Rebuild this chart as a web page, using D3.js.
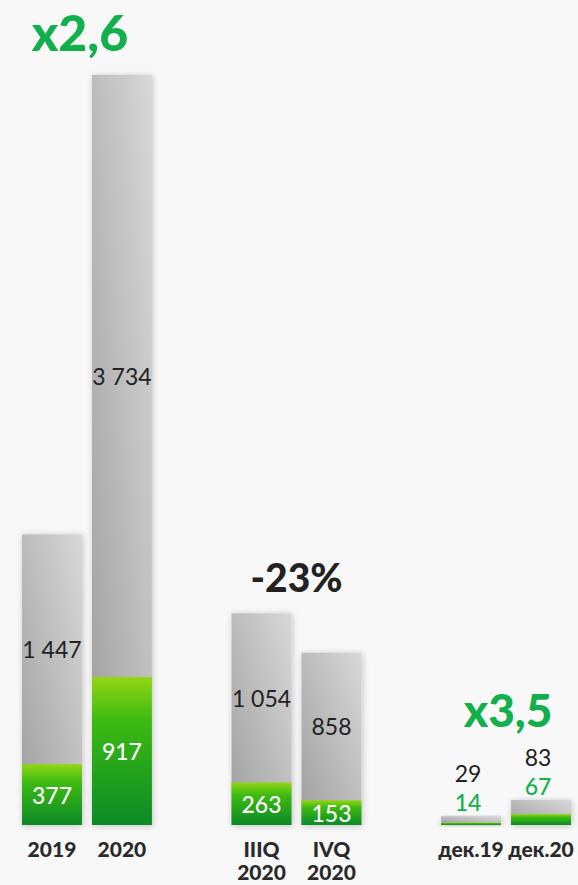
<!DOCTYPE html>
<html>
<head>
<meta charset="utf-8">
<script src="https://cdn.jsdelivr.net/npm/d3@7"></script>
<style>
  html, body { margin: 0; padding: 0; background: #f8f8f8; }
  svg { display: block; font-family: Lato, "Noto Sans", sans-serif; }
</style>
</head>
<body>
<svg id="chart" width="578" height="885"></svg>
<script>
// groups of bars
const groups = ["year", "quarter", "month"];
const categories = ["2019", "2020", "IIIQ 2020", "IVQ 2020", "дек.19", "дек.20"];
const categoryGroup = ["year", "year", "quarter", "quarter", "month", "month"];
const totalValues = [1447, 3734, 1054, 858, 29, 83];
const greenValues = [377, 917, 263, 153, 14, 67];
const totalLabels = ["1 447", "3 734", "1 054", "858", "29", "83"];
const headlines = ["x2,6", "-23%", "x3,5"];
const headlineColors = ["#12b04c", "#222222", "#12b04c"];

const svg = d3.select("#chart");
const baseline = 825;

// outer band for groups, inner band for bars in a group
const xGroup = d3.scaleBand().domain(groups).range([22, 571]).paddingInner(0.38).paddingOuter(0);
const xInner = d3.scaleBand().domain([0, 1]).range([0, xGroup.bandwidth()]).paddingInner(0.143);

// the big bars share a scale, the monthly ones have their own
const yTotal = d3.scaleLinear().domain([0, 3734]).range([baseline, 75]);
const yMonth = d3.scaleLinear().domain([0, 83]).range([baseline, 800]);
const yGreen = d3.scaleLinear().domain([0, 917]).range([baseline, 677]);

const data = categories.map((c, i) => ({
  name: c,
  group: categoryGroup[i],
  idx: categoryGroup.slice(0, i).filter((g) => g === categoryGroup[i]).length,
  total: totalValues[i],
  green: greenValues[i],
  label: totalLabels[i],
}));

function xPos(d) { return xGroup(d.group) + xInner(d.idx); }
function yTop(d) { return d.group === "month" ? yMonth(d.total) : yTotal(d.total); }

// gradients and shadow
const defs = svg.append("defs");
const grey = defs.append("linearGradient").attr("id", "grey")
  .attr("x1", 0).attr("y1", 1).attr("x2", 1).attr("y2", 0);
grey.append("stop").attr("offset", "0%").attr("stop-color", "#9f9f9f");
grey.append("stop").attr("offset", "100%").attr("stop-color", "#d8d8d8");

const green = defs.append("linearGradient").attr("id", "green")
  .attr("x1", 0).attr("y1", 0).attr("x2", 0).attr("y2", 1);
green.append("stop").attr("offset", "0%").attr("stop-color", "#92d614");
green.append("stop").attr("offset", "30%").attr("stop-color", "#3cba12");
green.append("stop").attr("offset", "100%").attr("stop-color", "#0b8a27");

const shadow = defs.append("filter").attr("id", "shadow")
  .attr("x", "-30%").attr("y", "-10%").attr("width", "160%").attr("height", "130%");
shadow.append("feDropShadow").attr("dx", 1).attr("dy", 1).attr("stdDeviation", 3)
  .attr("flood-color", "#000").attr("flood-opacity", 0.22);

const bw = xInner.bandwidth();

// grey bars (total)
svg.append("g").selectAll("rect").data(data).join("rect")
  .attr("x", xPos)
  .attr("y", yTop)
  .attr("width", bw)
  .attr("height", (d) => baseline - yTop(d))
  .attr("fill", "url(#grey)")
  .attr("filter", "url(#shadow)");

// green part
svg.append("g").selectAll("rect").data(data).join("rect")
  .attr("x", xPos)
  .attr("y", (d) => yGreen(d.green))
  .attr("width", bw)
  .attr("height", (d) => baseline - yGreen(d.green))
  .attr("fill", "url(#green)");

// value labels
const big = data.filter((d) => d.group !== "month");
const small = data.filter((d) => d.group === "month");

svg.append("g").selectAll("text").data(big).join("text")
  .attr("x", (d) => xPos(d) + bw / 2)
  .attr("y", (d) => (yTop(d) + yGreen(d.green)) / 2)
  .attr("text-anchor", "middle")
  .attr("dominant-baseline", "central")
  .attr("font-size", 23)
  .attr("fill", "#222")
  .text((d) => d.label);

svg.append("g").selectAll("text").data(big).join("text")
  .attr("x", (d) => xPos(d) + bw / 2)
  .attr("y", (d) => (baseline + yGreen(d.green)) / 2)
  .attr("text-anchor", "middle")
  .attr("dominant-baseline", "central")
  .attr("font-size", 23)
  .attr("font-weight", 500)
  .attr("fill", "#fff")
  .text((d) => d.green);

svg.append("g").selectAll("text").data(small).join("text")
  .attr("x", (d) => xPos(d) + bw / 2 - 3)
  .attr("y", (d) => yTop(d) - 43)
  .attr("text-anchor", "middle")
  .attr("dominant-baseline", "central")
  .attr("font-size", 23)
  .attr("fill", "#222")
  .text((d) => d.label);

svg.append("g").selectAll("text").data(small).join("text")
  .attr("x", (d) => xPos(d) + bw / 2 - 3)
  .attr("y", (d) => yTop(d) - 14)
  .attr("text-anchor", "middle")
  .attr("dominant-baseline", "central")
  .attr("font-size", 23)
  .attr("font-weight", 500)
  .attr("fill", "#14b04e")
  .text((d) => d.green);

// category labels, one text per line (quarters wrap on the space)
const labelLines = [];
data.forEach((d) => {
  const parts = d.group === "quarter" ? d.name.split(" ") : [d.name];
  parts.forEach((p, i) => labelLines.push({ bar: d, text: p, line: i }));
});
svg.append("g").selectAll("text").data(labelLines).join("text")
  .attr("x", (l) => xPos(l.bar) + bw / 2)
  .attr("y", (l) => 857 + l.line * 23)
  .attr("text-anchor", "middle")
  .attr("font-size", 21)
  .attr("font-weight", 900)
  .attr("fill", "#2a2a2a")
  .text((l) => l.text);

// headlines above each group
const headlineY = [51, 592, 727];
const headlineSize = [50, 39, 46];
const headlineShift = [-7, 0, 2];
svg.append("g").selectAll("text").data(groups).join("text")
  .attr("x", (g, i) => xGroup(g) + xGroup.bandwidth() / 2 + headlineShift[i])
  .attr("y", (g, i) => headlineY[i])
  .attr("text-anchor", "middle")
  .attr("font-size", (g, i) => headlineSize[i])
  .attr("font-weight", 900)
  .attr("fill", (g, i) => headlineColors[i])
  .text((g, i) => headlines[i]);
</script>
</body>
</html>
